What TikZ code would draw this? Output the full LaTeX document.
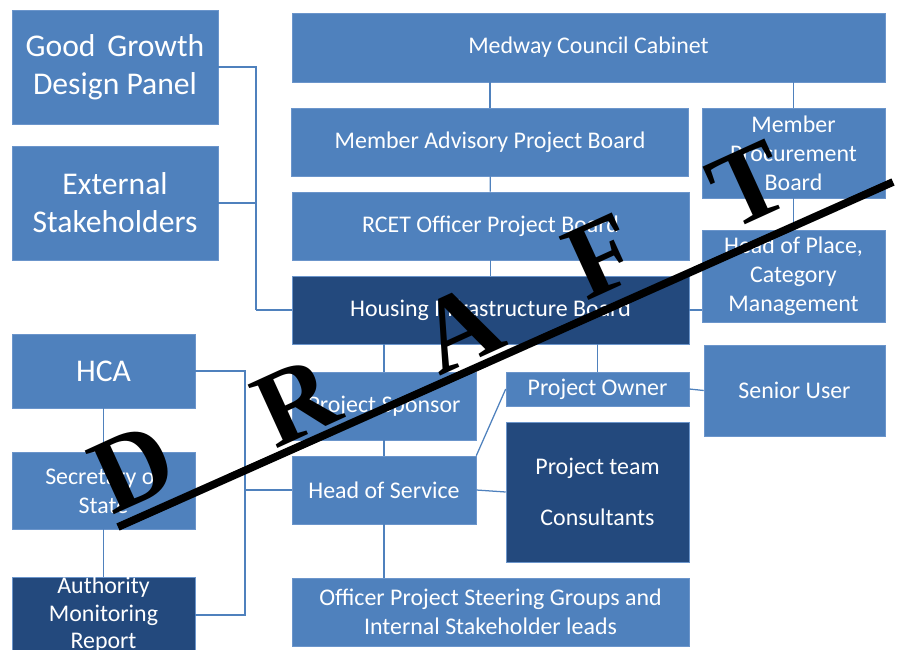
\documentclass[tikz,border=0pt]{standalone}
\usepackage{fontspec}
\setmainfont{Carlito}
\newfontfamily\stampfont{Liberation Serif}
\usepackage{tikz}
\usetikzlibrary{positioning}

\definecolor{boxblue}{HTML}{4F81BD}
\definecolor{boxnavy}{HTML}{23497D}
\definecolor{boxedge}{HTML}{6B95CB}

\begin{document}
\begin{tikzpicture}
			\tikzstyle{Box}		= [rectangle, draw=boxedge, fill=boxblue, text=white, inner sep=0pt, align=center, font=\fontsize{17}{20.5}\selectfont]
			\tikzstyle{Dark}	= [fill=boxnavy]
			\tikzstyle{Big}		= [font=\fontsize{22.5}{27}\selectfont]
			\tikzstyle{Wide}	= [minimum width=9.925cm, minimum height=1.7cm]
			\tikzstyle{Half}	= [minimum width=4.6cm, minimum height=1.7cm]
			\tikzstyle{Side}	= [minimum width=4.575cm]
			\tikzstyle{Link}	= [boxblue, line width=0.9pt]
			\tikzstyle{Stamp}	= [black, rotate=24.5, inner sep=0pt, font=\stampfont\bfseries\fontsize{76}{76}\selectfont]

			\useasboundingbox (0,0) rectangle (22.45,-16.25);

			% outside bodies on the left
			\node (ggdp) at (2.875,-1.675) [Box][Big][minimum width=5.15cm, minimum height=2.85cm] {Good\hspace{0.15em} Growth\\Design Panel};
			\node (ext) at (2.875,-5.075) [Box][Big][minimum width=5.15cm, minimum height=2.85cm] {External\\Stakeholders};
			\node (hca) at (2.5875,-9.275) [Box][Big][Side][minimum height=1.85cm] {HCA};
			\node (sos) at (2.5875,-12.2625) [Box][Side][minimum height=1.925cm] {Secretary of\\State};
			\node (amr) at (2.5875,-15.375) [Box][Dark][Side][minimum height=1.85cm] {Authority\\[-1pt]Monitoring\\[-1pt]Report};

			% council boards
			\node (cab) at (14.7125,-1.1875) [Box][minimum width=14.825cm, minimum height=1.725cm] {Medway Council Cabinet};
			\node (mapb) at (12.25,-3.55) [Box][Wide] {Member Advisory Project Board};
			\node (rcet) at (12.2625,-5.65) [Box][Wide] {RCET Officer Project Board};
			\node (hib) at (12.2625,-7.75) [Box][Dark][Wide] {Housing Infrastructure Board};
			\node (mpb) at (19.8375,-3.825) [Box][Side][minimum height=2.25cm] {Member\\Procurement\\Board};
			\node (hop) at (19.8375,-6.9) [Box][Side][minimum height=2.3cm] {Head of Place,\\Category\\Management};

			% project level
			\node (sponsor) at (9.6,-10.15) [Box][Half] {Project Sponsor};
			\node (hos) at (9.6,-12.25) [Box][Half] {Head of Service};
			\node (owner) at (14.9375,-9.725) [Box][Side][minimum height=0.85cm] {Project Owner};
			\node (user) at (19.8625,-9.7625) [Box][minimum width=4.525cm, minimum height=2.275cm] {Senior User};
			\node (team) at (14.9375,-12.3) [Box][Dark][Side][minimum height=3.5cm] {Project team\\[0.55cm]Consultants};
			\node (steer) at (12.2625,-15.3) [Box][Wide] {Officer Project Steering Groups and\\Internal Stakeholder leads};

			\coordinate (gbus) at (6.4,-7.75);
			\coordinate (lbus) at (6.125,-12.25);

			\draw [-] (ggdp.east) -| (gbus) [Link];
			\draw [-] (ext.east) -| (gbus) [Link];
			\draw [-] (gbus) to (hib.west) [Link];
			\draw [-] (mapb.north) to (mapb.north |- cab.south) [Link];
			\draw [-] (mapb) to (rcet) [Link];
			\draw [-] (rcet) to (hib) [Link];
			\draw [-] (mpb.north) to (mpb.north |- cab.south) [Link];
			\draw [-] (mpb) to (hop) [Link];
			\draw [-] (hib.east) to (hib.east -| hop.west) [Link];
			\draw [-] (sponsor.north) to (sponsor.north |- hib.south) [Link];
			\draw [-] (owner.north) to (owner.north |- hib.south) [Link];
			\draw [-] (owner.east) to (user.west) [Link];
			\draw [-] (sponsor) to (hos) [Link];
			\draw [-] (hos.north east) to (owner.west) [Link];
			\draw [-] (hos.east) to (team.west) [Link];
			\draw [-] (hos.south) to (hos.south |- steer.north) [Link];
			\draw [-] (hca.east) -| (lbus) [Link];
			\draw [-] (amr.east) -| (lbus) [Link];
			\draw [-] (lbus) to (hos.west) [Link];
			\draw [-] (hca) to (sos) [Link];
			\draw [-] (sos) to (amr) [Link];

			% watermark
			\node (d) at (3.325,-11.7) [Stamp] {D};
			\node (r) at (7.4,-10.05) [Stamp] {R};
			\node (a) at (11.5,-8.2) [Stamp] {A};
			\node (f) at (15.05,-6.4) [Stamp] {F};
			\node (t) at (18.7,-4.625) [Stamp] {T};
			\coordinate (s0) at (2.95,-13.175);
			\coordinate (s1) at (22.325,-4.55);
			\draw [black, line width=5.5pt] (s0) to (s1);
		\end{tikzpicture}
\end{document}
